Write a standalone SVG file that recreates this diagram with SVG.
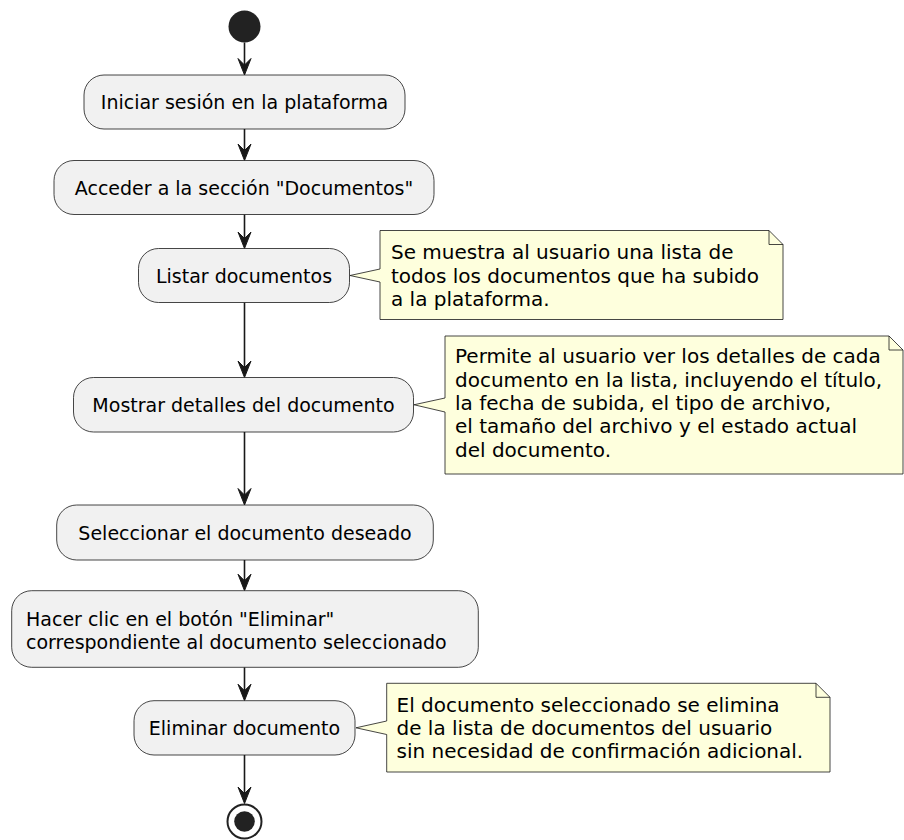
<svg xmlns="http://www.w3.org/2000/svg" width="904" height="840" viewBox="0 0 904 840">
  <style>
    .act { fill: #F1F1F1; stroke: #181818; stroke-width: 0.8; }
    .note { fill: #FEFFDD; stroke: #181818; stroke-width: 0.8; }
    .fold { fill: none; stroke: #181818; stroke-width: 0.8; }
    .lbl { font-family: "DejaVu Sans", sans-serif; font-size: 19px; fill: #000; }
    .ntxt { font-family: "DejaVu Sans", sans-serif; font-size: 20px; fill: #000; }
    .flow { stroke: #181818; stroke-width: 1.6; fill: none; }
    .head { fill: #181818; stroke: #181818; stroke-width: 1; }
  </style>
  <defs>
    <!-- arrowhead with its tip at the origin, pointing down -->
    <path id="ah" d="M -6.5,-16.5 L 0,0 L 6.5,-16.5 L 0,-10 Z"/>
  </defs>
  <rect width="904" height="840" fill="#FFFFFF"/>

  <!-- connectors -->
  <g id="connectors">
    <line class="flow" x1="244.5" y1="42.5" x2="244.5" y2="70"/>
    <use href="#ah" class="head" x="244.5" y="75"/>
    <line class="flow" x1="244.5" y1="129" x2="244.5" y2="155"/>
    <use href="#ah" class="head" x="244.5" y="160.5"/>
    <line class="flow" x1="244.5" y1="214.5" x2="244.5" y2="243"/>
    <use href="#ah" class="head" x="244.5" y="248.5"/>
    <line class="flow" x1="244.5" y1="302.5" x2="244.5" y2="372"/>
    <use href="#ah" class="head" x="244.5" y="377.5"/>
    <line class="flow" x1="244.5" y1="432" x2="244.5" y2="500"/>
    <use href="#ah" class="head" x="244.5" y="505"/>
    <line class="flow" x1="244.5" y1="560" x2="244.5" y2="585"/>
    <use href="#ah" class="head" x="244.5" y="590.7"/>
    <line class="flow" x1="244.5" y1="667.3" x2="244.5" y2="695"/>
    <use href="#ah" class="head" x="244.5" y="700.7"/>
    <line class="flow" x1="244.5" y1="755" x2="244.5" y2="798"/>
    <use href="#ah" class="head" x="244.5" y="803.5"/>
  </g>

  <!-- start -->
  <g id="start">
    <circle cx="244.5" cy="26.5" r="16" fill="#222222"/>
  </g>

  <g id="iniciar">
    <rect class="act" x="84" y="75" width="321" height="54" rx="20" ry="20"/>
    <text class="lbl" x="244.5" y="109" text-anchor="middle">Iniciar sesión en la plataforma</text>
  </g>

  <g id="acceder">
    <rect class="act" x="54" y="160.5" width="380" height="54" rx="20" ry="20"/>
    <text class="lbl" x="244" y="194.5" text-anchor="middle">Acceder a la sección "Documentos"</text>
  </g>

  <g id="listar">
    <rect class="act" x="138.5" y="248.5" width="211" height="54" rx="20" ry="20"/>
    <text class="lbl" x="244" y="282.5" text-anchor="middle">Listar documentos</text>
  </g>

  <g id="nota-listar">
    <path class="note" d="M 380,230.5 L 769,230.5 L 783,244.5 L 783,319.5 L 380,319.5 L 380,282 L 350,275.5 L 380,269 Z"/>
    <path class="fold" d="M 769,230.5 L 769,244.5 L 783,244.5"/>
    <text class="ntxt" x="391" y="259">Se muestra al usuario una lista de</text>
    <text class="ntxt" x="391" y="282.5">todos los documentos que ha subido</text>
    <text class="ntxt" x="391" y="306">a la plataforma.</text>
  </g>

  <g id="mostrar">
    <rect class="act" x="73.5" y="377.5" width="340" height="54.5" rx="20" ry="20"/>
    <text class="lbl" x="243.5" y="411.75" text-anchor="middle">Mostrar detalles del documento</text>
  </g>

  <g id="nota-mostrar">
    <path class="note" d="M 445,336 L 889,336 L 903,350 L 903,474 L 445,474 L 445,412 L 414,404.75 L 445,398 Z"/>
    <path class="fold" d="M 889,336 L 889,350 L 903,350"/>
    <text class="ntxt" x="455" y="363.3">Permite al usuario ver los detalles de cada</text>
    <text class="ntxt" x="455" y="386.7">documento en la lista, incluyendo el título,</text>
    <text class="ntxt" x="455" y="410">la fecha de subida, el tipo de archivo,</text>
    <text class="ntxt" x="455" y="433.3">el tamaño del archivo y el estado actual</text>
    <text class="ntxt" x="455" y="456.7">del documento.</text>
  </g>

  <g id="seleccionar">
    <rect class="act" x="56.7" y="505" width="376.6" height="55" rx="20" ry="20"/>
    <text class="lbl" x="245" y="539.5" text-anchor="middle">Seleccionar el documento deseado</text>
  </g>

  <g id="hacer-clic">
    <rect class="act" x="11.7" y="590.7" width="466.6" height="76.6" rx="20" ry="20"/>
    <text class="lbl" x="26" y="626">Hacer clic en el botón "Eliminar"</text>
    <text class="lbl" x="26" y="649">correspondiente al documento seleccionado</text>
  </g>

  <g id="eliminar">
    <rect class="act" x="134" y="700.7" width="221" height="54.3" rx="20" ry="20"/>
    <text class="lbl" x="244.5" y="734.8" text-anchor="middle">Eliminar documento</text>
  </g>

  <g id="nota-eliminar">
    <path class="note" d="M 386.7,683.3 L 816,683.3 L 830,697.3 L 830,772 L 386.7,772 L 386.7,734.5 L 356,727.8 L 386.7,721 Z"/>
    <path class="fold" d="M 816,683.3 L 816,697.3 L 830,697.3"/>
    <text class="ntxt" x="396.5" y="711.7">El documento seleccionado se elimina</text>
    <text class="ntxt" x="396.5" y="735">de la lista de documentos del usuario</text>
    <text class="ntxt" x="396.5" y="758.3">sin necesidad de confirmación adicional.</text>
  </g>

  <!-- end -->
  <g id="end">
    <circle cx="244.5" cy="821.5" r="17" fill="none" stroke="#222222" stroke-width="2"/>
    <circle cx="244.5" cy="821.5" r="10.3" fill="#222222"/>
  </g>
</svg>
